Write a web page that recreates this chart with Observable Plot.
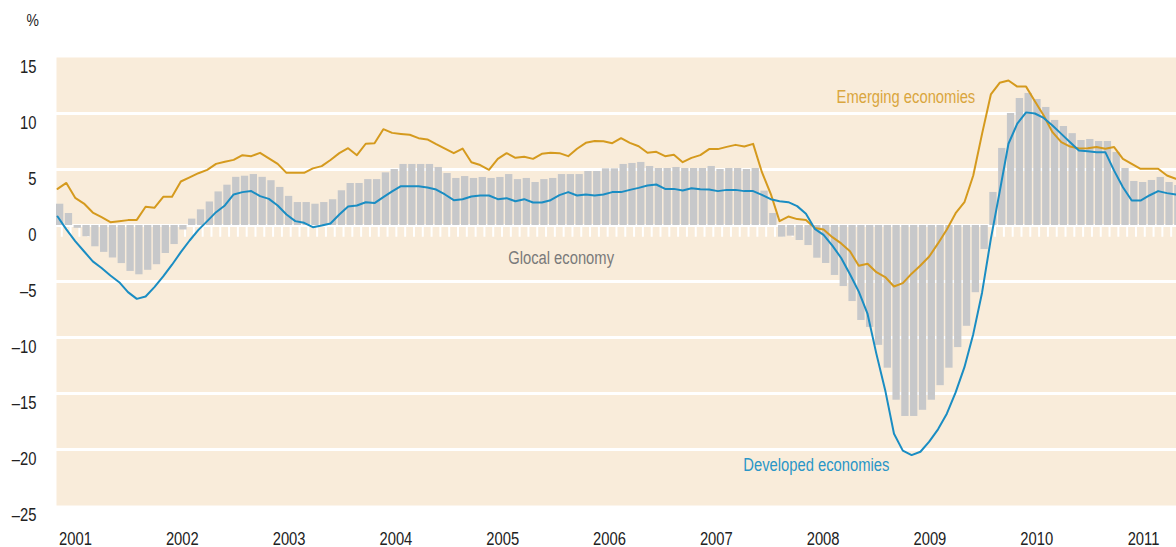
<!DOCTYPE html>
<html><head><meta charset="utf-8">
<script src="https://cdn.jsdelivr.net/npm/d3@7"></script>
<script src="https://cdn.jsdelivr.net/npm/@observablehq/plot@0.6"></script>
<style>
html,body{margin:0;padding:0;background:#fff;overflow:hidden;}
#chart{position:relative;width:1176px;height:547px;}
#chart svg{position:absolute;left:0;top:0;overflow:hidden;}
</style></head><body><div id="chart"></div>
<script>
const FONT = '"Liberation Sans",Arial,sans-serif';
const NARROW = 0.82; // horizontal squeeze to mimic a narrow face

// Months Jan 2001 .. Aug 2011
const months = d3.range(128).map(i => `${2001 + Math.floor(i / 12)}-${String(i % 12 + 1).padStart(2, "0")}`);

const globalEconomy = [
 1.9, 1.07, -0.25, -1.0, -1.9, -2.4, -2.9, -3.4, -4.1, -4.4,
 -4.0, -3.5, -2.5, -1.7, -0.4, 0.57, 1.4, 2.1, 3.0, 3.6,
 4.3, 4.4, 4.55, 4.3, 4.0, 3.4, 2.6, 2.05, 2.05, 1.9,
 2.05, 2.3, 3.1, 3.75, 3.75, 4.1, 4.1, 4.7, 5.0, 5.45,
 5.45, 5.45, 5.45, 5.18, 4.64, 4.2, 4.37, 4.2, 4.29, 4.2,
 4.29, 4.55, 4.1, 4.2, 3.84, 4.1, 4.2, 4.55, 4.55, 4.55,
 4.82, 4.82, 5.06, 5.06, 5.45, 5.54, 5.63, 5.27, 5.09, 5.09,
 5.18, 5.09, 5.09, 5.09, 5.27, 5.0, 5.09, 5.09, 5.0, 5.09,
 3.07, 1.07, -1.04, -0.95, -1.34, -1.79, -2.92, -3.39, -4.46, -5.45,
 -6.79, -8.48, -9.1, -10.7, -12.74, -15.6, -17.05, -17.05, -16.5, -15.6,
 -14.3, -12.74, -10.9, -9.0, -6.0, -2.14, 2.95, 6.88, 10.0, 11.34,
 11.79, 11.25, 10.54, 9.38, 8.84, 8.2, 7.59, 7.68, 7.5, 7.5,
 6.52, 5.09, 3.93, 3.84, 4.02, 4.29, 3.84, 3.57
];

const emerging = [
 3.27, 3.8, 2.47, 1.96, 1.16, 0.74, 0.3, 0.39, 0.48, 0.5,
 1.67, 1.58, 2.56, 2.56, 3.93, 4.3, 4.67, 4.97, 5.5, 5.7,
 5.86, 6.28, 6.19, 6.49, 6.0, 5.5, 4.7, 4.7, 4.7, 5.1,
 5.3, 5.85, 6.46, 6.9, 6.28, 7.3, 7.35, 8.6, 8.27, 8.18,
 8.1, 7.8, 7.68, 7.26, 6.87, 6.46, 6.87, 5.65, 5.4, 4.97,
 5.95, 6.46, 6.04, 6.13, 5.95, 6.4, 6.49, 6.46, 6.19, 6.85,
 7.38, 7.55, 7.53, 7.35, 7.8, 7.38, 7.08, 6.49, 6.58, 6.19,
 6.31, 5.65, 6.04, 6.28, 6.82, 6.82, 7.02, 7.2, 7.05, 7.29,
 4.76, 2.83, 0.39, 0.8, 0.57, 0.5, -0.22, -0.36, -1.04, -1.6,
 -2.3, -3.6, -3.42, -4.17, -4.6, -5.45, -5.15, -4.3, -3.57, -2.77,
 -1.6, -0.35, 1.1, 2.08, 4.46, 8.18, 11.7, 12.74, 12.95, 12.4,
 12.4, 11.1, 9.82, 8.33, 7.44, 7.05, 6.88, 6.9, 7.0, 6.85,
 7.0, 5.95, 5.5, 5.06, 5.06, 5.06, 4.46, 4.17
];

const developed = [
 0.8, -0.35, -1.4, -2.3, -3.2, -3.8, -4.46, -5.06, -5.95, -6.55,
 -6.34, -5.5, -4.55, -3.5, -2.38, -1.34, -0.39, 0.39, 1.19, 1.79,
 2.77, 2.98, 3.07, 2.62, 2.38, 1.79, 0.98, 0.39, 0.24, -0.15,
 0.0, 0.18, 0.98, 1.7, 1.79, 2.08, 2.0, 2.53, 3.04, 3.51,
 3.51, 3.51, 3.39, 3.21, 2.77, 2.26, 2.35, 2.59, 2.68, 2.68,
 2.35, 2.44, 2.17, 2.35, 2.05, 2.05, 2.26, 2.71, 2.98, 2.68,
 2.77, 2.68, 2.77, 2.98, 2.98, 3.18, 3.36, 3.57, 3.66, 3.27,
 3.27, 3.13, 3.33, 3.24, 3.21, 3.07, 3.18, 3.18, 3.07, 3.07,
 2.74, 2.35, 2.17, 2.08, 1.73, 1.04, -0.3, -0.83, -1.8, -2.9,
 -4.35, -5.9, -7.9, -11.46, -14.7, -18.6, -20.1, -20.5, -20.2, -19.3,
 -18.2, -16.8, -14.9, -12.65, -9.7, -6.0, -1.2, 3.0, 7.3, 9.1,
 10.1, 10.0, 9.6, 8.93, 8.18, 7.44, 6.7, 6.64, 6.55, 6.55,
 4.9, 3.42, 2.23, 2.23, 2.68, 3.07, 2.89, 2.77
];

const yearLabels = [2001, 2002, 2003, 2004, 2005, 2006, 2007, 2008, 2009, 2010, 2011];
const yTicks = [-25, -20, -15, -10, -5, 0, 5, 10, 15];
const gridValues = [-20, -15, -10, -5, 0, 5, 10];

const annotations = [
  {text: "Emerging economies", month: 88.6, value: 10.9, color: "#d9a63e"},
  {text: "Glocal economy", month: 51.3, value: -3.4, color: "#7a7a7a"},
  {text: "Developed economies", month: 78.0, value: -21.9, color: "#2a96c7"}
];

const rows = months.map((m, i) => ({i, month: m, g: globalEconomy[i], em: emerging[i], dev: developed[i]}));

const main = Plot.plot({
  width: 1176,
  height: 547,
  marginTop: 57,
  marginBottom: 42,
  marginLeft: 56,
  marginRight: 0,
  style: {fontFamily: FONT, fontSize: "18px", color: "#222", background: "#fff"},
  x: {type: "linear", domain: [0, 128], range: [56, 1183], axis: null},
  y: {domain: [-25, 15]},
  marks: [
    Plot.frame({fill: "#f9ecda", stroke: "none"}),
    Plot.ruleY(gridValues, {stroke: "#fff", strokeWidth: 3}),
    Plot.ruleX(rows, {x: d => d.i + 0.6, y1: -0.08, y2: -1.05, stroke: "#fff", strokeWidth: 2}),
    Plot.rect(rows, {x1: "i", x2: d => d.i + 0.83, y1: 0, y2: "g", fill: "#c7c8ca"}),
    Plot.line(rows, {x: d => d.i + 0.12, y: "em", stroke: "#d59a1e", strokeWidth: 2, strokeLinejoin: "round"}),
    Plot.line(rows, {x: d => d.i + 0.12, y: "dev", stroke: "#1a8dc3", strokeWidth: 2, strokeLinejoin: "round"}),
    Plot.text(annotations, {x: "month", y: "value", text: "text", fill: "color", textAnchor: "start", lineAnchor: "bottom", fontSize: 18}),
    Plot.axisY(yTicks, {tickSize: 0, tickPadding: 20, dy: 10, fontSize: 18, label: null,
      tickFormat: d => d < 0 ? "\u2013" + Math.abs(d) : String(d)}),
    Plot.text(["%"], {text: d => d, frameAnchor: "top-left", dx: -30, dy: -32, lineAnchor: "bottom", textAnchor: "start", fontSize: 17})
  ]
});

const years = Plot.plot({
  width: 1176,
  height: 547,
  margin: 0,
  style: {fontFamily: FONT, fontSize: "18px", color: "#222", background: "transparent"},
  x: {domain: [2001, 2011], range: [75, 1143], axis: null},
  marks: [
    Plot.text(yearLabels, {x: d => d, text: d => String(d), frameAnchor: "bottom", lineAnchor: "bottom", dy: -3, fontSize: 18})
  ]
});

const el = document.getElementById("chart");
el.appendChild(main);
el.appendChild(years);

// squeeze text horizontally to imitate the condensed face of the original
el.querySelectorAll("text").forEach(t => {
  const len = t.getComputedTextLength();
  if (len > 0) {
    t.setAttribute("textLength", (len * NARROW).toFixed(2));
    t.setAttribute("lengthAdjust", "spacingAndGlyphs");
  }
});
</script>
</body></html>
